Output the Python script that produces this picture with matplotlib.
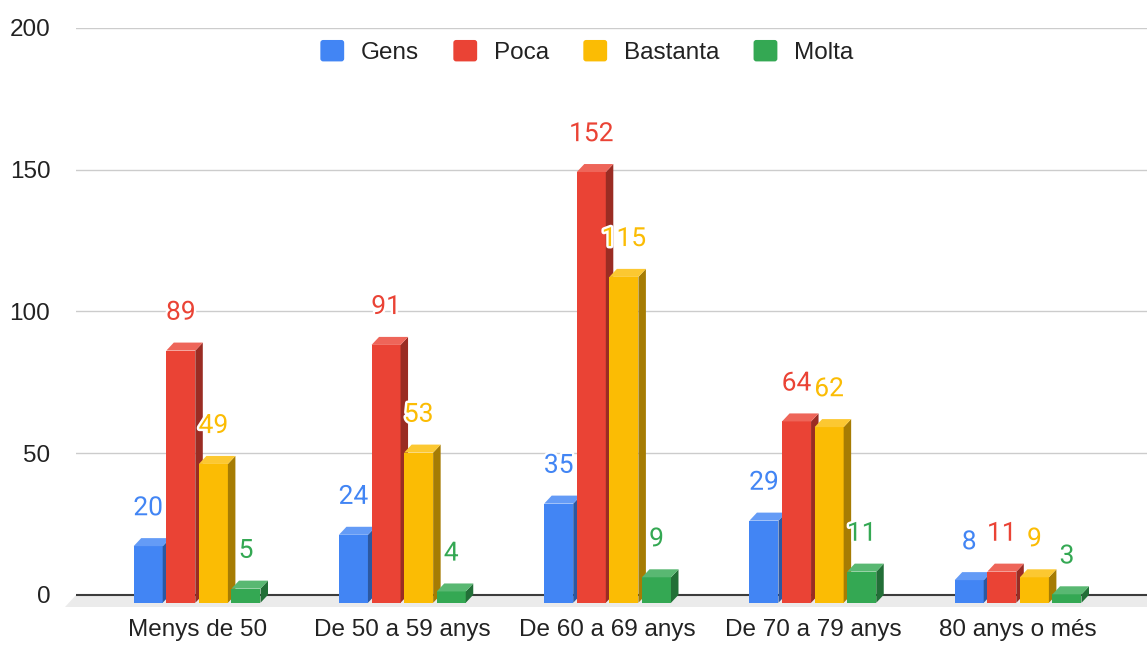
import matplotlib
matplotlib.use("Agg")
import matplotlib.pyplot as plt
import matplotlib.patheffects as pe
from matplotlib.patches import Polygon, Patch, FancyBboxPatch
from matplotlib.legend_handler import HandlerPatch
from matplotlib.colors import to_rgb

# ---- data ----
categories = ["Menys de 50", "De 50 a 59 anys", "De 60 a 69 anys",
              "De 70 a 79 anys", "80 anys o més"]
series_names = ["Gens", "Poca", "Bastanta", "Molta"]
gens = [20, 24, 35, 29, 8]
poca = [89, 91, 152, 64, 11]
bastanta = [49, 53, 115, 62, 9]
molta = [5, 4, 9, 11, 3]
y_ticks = [0, 50, 100, 150, 200]

series_values = [gens, poca, bastanta, molta]
colors = ["#4285F4", "#EA4335", "#FBBC04", "#34A853"]

plt.rcParams["font.family"] = ["Liberation Sans", "DejaVu Sans"]

W, H = 1147, 645
fig = plt.figure(figsize=(W / 100, H / 100), dpi=100)

# axes placement (pixels): left 76, top 28 (value 200), bottom ~612
x_px_per_unit = 205.25
y_px_per_unit = 2.834
ymin, ymax = -6, 200
top_px = 28
bottom_px = top_px + (ymax - ymin) * y_px_per_unit
ax = fig.add_axes([76 / W, 1 - bottom_px / H, (W - 76) / W, (bottom_px - top_px) / H])
xmin = -0.59
xmax = xmin + (W - 76) / x_px_per_unit
ax.set_xlim(xmin, xmax)
ax.set_ylim(ymin, ymax)

# 3D bar geometry (data units)
step = 32.6 / x_px_per_unit
width = 29.0 / x_px_per_unit
dx = 7.5 / x_px_per_unit
dy = 8.0 / y_px_per_unit


def shade(c, f):
    r, g, b = to_rgb(c)
    return (r * f, g * f, b * f)


def tint(c, f):
    r, g, b = to_rgb(c)
    return (r + (1 - r) * f, g + (1 - g) * f, b + (1 - b) * f)


# floor
floor_depth = 12.0 / y_px_per_unit
floor_dx = 11.0 / x_px_per_unit
ax.add_patch(Polygon([(xmin, 0), (xmax, 0), (xmax, -floor_depth),
                      (xmin - floor_dx, -floor_depth)],
                     closed=True, facecolor="#ebebeb", edgecolor="none",
                     zorder=0.5, clip_on=False))

# grid and baseline
for t in y_ticks[1:]:
    ax.axhline(t, color="#cccccc", lw=1.0, zorder=0.6)
ax.axhline(0, color="#3c3c3c", lw=1.5, zorder=0.7)

n = len(series_values)
for k, (vals, col) in enumerate(zip(series_values, colors)):
    lefts = [i + (k - (n - 1) / 2) * step - width / 2 for i in range(len(categories))]
    z = 2 + k
    ax.bar(lefts, vals, width=width, bottom=-dy, align="edge", color=col,
           edgecolor="none", zorder=z)
    for xl, v in zip(lefts, vals):
        side = [(xl + width, -dy), (xl + width + dx, 0), (xl + width + dx, v),
                (xl + width, v - dy)]
        top = [(xl, v - dy), (xl + width, v - dy), (xl + width + dx, v),
               (xl + dx, v)]
        ax.add_patch(Polygon(side, closed=True, facecolor=shade(col, 0.66),
                             edgecolor="none", zorder=z))
        ax.add_patch(Polygon(top, closed=True, facecolor=tint(col, 0.18),
                             edgecolor="none", zorder=z))
        ax.annotate(str(v), (xl + width / 2, v), xytext=(0, 21.5),
                    textcoords="offset points", ha="center", va="center",
                    fontsize=19, color=col,
                    family=["Roboto", "DejaVu Sans"], zorder=20,
                    path_effects=[pe.withStroke(linewidth=3.5, foreground="white")])

for s in ax.spines.values():
    s.set_visible(False)
ax.set_yticks(y_ticks)
ax.set_yticklabels([str(t) for t in y_ticks])
ax.set_xticks(range(len(categories)))
ax.set_xticklabels(categories)
ax.tick_params(axis="y", length=0, pad=18.5, labelsize=17.5, labelcolor="#222222")
ax.tick_params(axis="x", length=0, pad=5, labelsize=17.5, labelcolor="#222222")


class RoundSquare(HandlerPatch):
    def create_artists(self, legend, orig_handle, xdescent, ydescent, width,
                       height, fontsize, trans):
        p = FancyBboxPatch((-xdescent, -ydescent), width, height,
                           boxstyle="round,pad=0,rounding_size=2",
                           facecolor=orig_handle.get_facecolor(),
                           edgecolor="none", transform=trans)
        return [p]


handles = [Patch(facecolor=c, label=nm) for c, nm in zip(colors, series_names)]
fig.legend(handles=handles, loc="center", bbox_to_anchor=(587 / W, 1 - 52 / H),
           ncol=4, frameon=False, fontsize=17.5, handlelength=0.98,
           handleheight=0.98, handletextpad=0.7, columnspacing=1.4,
           labelcolor="#222222",
           handler_map={Patch: RoundSquare()})

fig.savefig("out.png", dpi=100)
